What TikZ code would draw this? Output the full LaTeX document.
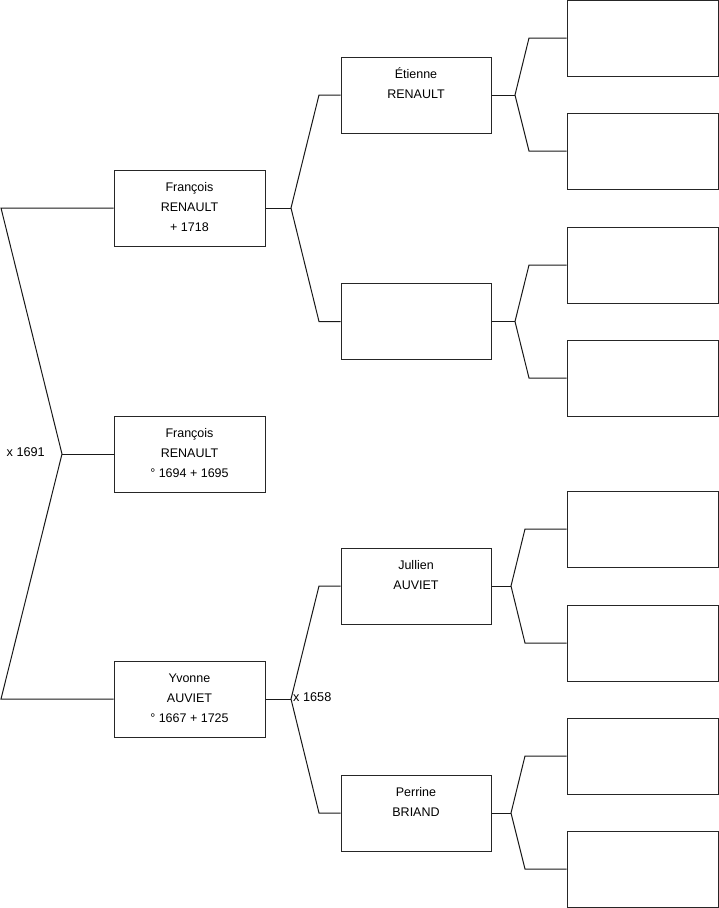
\documentclass[tikz,border=0pt]{standalone}
\usepackage{fontspec}
\setmainfont{Liberation Sans}
\begin{document}
\begin{tikzpicture}[x=1pt,y=-1pt,
  pbox/.style={draw=black!85,line width=1pt,rectangle,inner sep=0pt,minimum height=76pt},
  wA/.style={minimum width=151pt},
  wB/.style={minimum width=150pt},
  txt/.style={anchor=north,inner sep=0pt,align=center,font=\fontsize{12.5}{20}\selectfont},
  conn/.style={line width=1pt,black!90},
  lbl/.style={inner sep=0pt,font=\fontsize{12.7}{14}\selectfont}]
\useasboundingbox (0,0) rectangle (719,908);
% column 1
\node[pbox,wA] (b1) at (189.5,208) {};
\node[pbox,wA] (b2) at (189.5,454) {};
\node[pbox,wA] (b3) at (189.5,699) {};
% column 2
\node[pbox,wB] (c1) at (416,95) {};
\node[pbox,wB] (c2) at (416,321.5) {};
\node[pbox,wB] (c3) at (416,586) {};
\node[pbox,wB] (c4) at (416,813) {};
% column 3
\node[pbox,wA] (d1) at (642.5,38) {};
\node[pbox,wA] (d2) at (642.5,151) {};
\node[pbox,wA] (d3) at (642.5,265) {};
\node[pbox,wA] (d4) at (642.5,378) {};
\node[pbox,wA] (d5) at (642.5,529) {};
\node[pbox,wA] (d6) at (642.5,643) {};
\node[pbox,wA] (d7) at (642.5,756) {};
\node[pbox,wA] (d8) at (642.5,869) {};
% texts
\node[txt] (t1) at ([yshift=-10pt]b1.north) {\rule{0pt}{12pt}François\\RENAULT\\+ 1718};
\node[txt] (t2) at ([yshift=-10pt]b2.north) {\rule{0pt}{12pt}François\\RENAULT\\° 1694 + 1695};
\node[txt] (t3) at ([yshift=-10pt]b3.north) {\rule{0pt}{12pt}Yvonne\\AUVIET\\° 1667 + 1725};
\node[txt] (u1) at ([yshift=-10pt]c1.north) {\rule{0pt}{12pt}Étienne\\RENAULT};
\node[txt] (u3) at ([yshift=-10pt]c3.north) {\rule{0pt}{12pt}Jullien\\AUVIET};
\node[txt] (u4) at ([yshift=-10pt]c4.north) {\rule{0pt}{12pt}Perrine\\BRIAND};
% junction coordinates
\coordinate (l0) at (1,208);
\coordinate (j1) at (62,454);
\coordinate (l2) at (1,699);
\coordinate (j2) at (291,208);
\coordinate (j3) at (291,699);
\coordinate (k1) at (319,95);
\coordinate (k2) at (319,321.5);
\coordinate (k3) at (319,586);
\coordinate (k4) at (319,813);
\coordinate (m1) at (515,95);
\coordinate (m2) at (515,321.5);
\coordinate (m3) at (511,586);
\coordinate (m4) at (511,813);
\coordinate (n1) at (529,38);
\coordinate (n2) at (529,151);
\coordinate (n3) at (529,265);
\coordinate (n4) at (529,378);
\coordinate (n5) at (525,529);
\coordinate (n6) at (525,643);
\coordinate (n7) at (525,756);
\coordinate (n8) at (525,869);
% connectors
\draw[conn] (b1.west) -- (l0) -- (j1) -- (l2) -- (b3.west);
\draw[conn] (j1) -- (b2.west);
\draw[conn] (b1.east) -- (j2);
\draw[conn] (c1.west) -- (k1) -- (j2) -- (k2) -- (c2.west);
\draw[conn] (b3.east) -- (j3);
\draw[conn] (c3.west) -- (k3) -- (j3) -- (k4) -- (c4.west);
\draw[conn] (c1.east) -- (m1);
\draw[conn] (d1.west) -- (n1) -- (m1) -- (n2) -- (d2.west);
\draw[conn] (c2.east) -- (m2);
\draw[conn] (d3.west) -- (n3) -- (m2) -- (n4) -- (d4.west);
\draw[conn] (c3.east) -- (m3);
\draw[conn] (d5.west) -- (n5) -- (m3) -- (n6) -- (d6.west);
\draw[conn] (c4.east) -- (m4);
\draw[conn] (d7.west) -- (n7) -- (m4) -- (n8) -- (d8.west);
% marriage labels
\node[lbl,anchor=east] (x1) at ([xshift=-17pt,yshift=2pt]j1) {x 1691};
\node[lbl,anchor=west] (x2) at ([xshift=2pt,yshift=2pt]j3) {x 1658};
\end{tikzpicture}
\end{document}
